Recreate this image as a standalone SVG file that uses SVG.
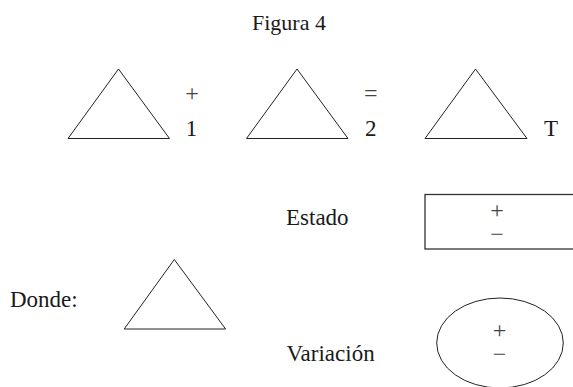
<svg xmlns="http://www.w3.org/2000/svg" width="573" height="387" viewBox="0 0 573 387">
<style>
text{font-family:"Liberation Serif","Times New Roman",serif;font-size:23px;fill:#1a1a1a}
.c{text-anchor:middle}
.sym{fill:#444;font-size:24px}
.tri{fill:none;stroke:#222;stroke-width:1}
.box{fill:none;stroke:#333;stroke-width:1.3}
</style>
<rect width="573" height="387" fill="#fff"/>
<g id="title"><text class="c" x="289" y="30" style="font-size:22px">Figura 4</text></g>
<g id="eq">
<g id="tri1"><polygon class="tri" points="118.5,69 68,138.5 169.5,138.5"/></g>
<g id="plus"><text class="c sym" x="192" y="101">+</text></g>
<g id="lbl1"><text class="c" x="191.5" y="136">1</text></g>
<g id="tri2"><polygon class="tri" points="297,69 246.5,138.5 348,138.5"/></g>
<g id="equals"><text class="c sym" x="370.7" y="101">=</text></g>
<g id="lbl2"><text class="c" x="370.7" y="136">2</text></g>
<g id="tri3"><polygon class="tri" points="475.5,69 425,138.5 527,138.5"/></g>
<g id="lblT"><text class="c" x="551" y="136">T</text></g>
</g>
<g id="estado">
<text x="286" y="225">Estado</text>
<rect class="box" x="425" y="194.5" width="170" height="54.5"/>
<text class="c sym" x="497" y="218">+</text>
<text class="c sym" x="497" y="242">−</text>
</g>
<g id="donde">
<text x="10" y="306.5">Donde:</text>
<polygon class="tri" points="174.3,259.5 124.2,329 225.6,329"/>
</g>
<g id="variacion">
<text x="286.5" y="361">Variación</text>
<ellipse class="tri" cx="500" cy="343" rx="63.3" ry="45"/>
<text class="c sym" x="499.5" y="338">+</text>
<text class="c sym" x="499.5" y="362">−</text>
</g>
<g id="connectors"></g>
</svg>
